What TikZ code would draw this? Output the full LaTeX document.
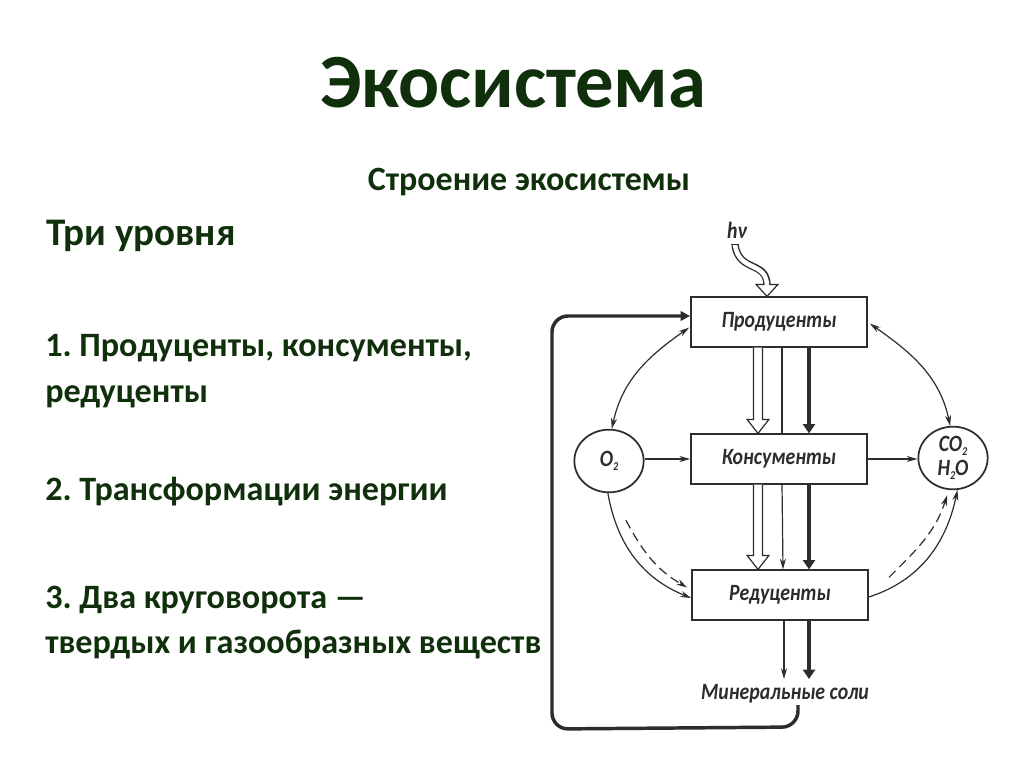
\documentclass[tikz,border=0pt]{standalone}
\usepackage{fontspec}
\setmainfont{Carlito}
\newfontfamily\diafont[FakeStretch=0.85]{Carlito}
\usetikzlibrary{arrows.meta,calc,shapes.geometric}
\definecolor{dkgreen}{RGB}{16,48,12}
\definecolor{ink}{RGB}{45,45,45}
\newcommand\lowtwo{\raisebox{-0.18em}{\fontsize{9}{9}\selectfont 2}}
\frenchspacing
\begin{document}
\begin{tikzpicture}[x=0.75pt,y=0.75pt,
  ttl/.style={anchor=base, text=dkgreen, font=\bfseries\fontsize{57.5}{60}\selectfont},
  sub/.style={anchor=base, text=dkgreen, font=\bfseries\fontsize{25.5}{27}\selectfont},
  lft/.style={anchor=base west, text=dkgreen, font=\bfseries\fontsize{25.6}{28}\selectfont, inner sep=0},
  dfont/.style={font=\diafont\bfseries\itshape\fontsize{17.5}{18}\selectfont, text=ink},
  box/.style={dfont, draw=ink, line width=1.4pt, minimum width=132pt, minimum height=37pt, inner sep=0},
  gas/.style={dfont, ellipse, draw=ink, line width=1.3pt, minimum width=52pt, minimum height=47pt, inner sep=0, align=center},
  thinline/.style={draw=ink, line width=0.9pt},
  thinarr/.style={thinline, -{Stealth[length=8pt,width=4.5pt,inset=2.5pt]}},
  dbl/.style={thinline, {Stealth[length=8pt,width=4.5pt,inset=2.5pt]}-{Stealth[length=8pt,width=4.5pt,inset=2.5pt]}},
  dashedarr/.style={thinarr, dash pattern=on 7pt off 4pt},
  thickarr/.style={draw=ink, line width=3pt, -{Triangle[length=7pt,width=9pt]}},
  fb/.style={draw=ink, line width=2.6pt, rounded corners=12pt, -{Triangle[length=7pt,width=7pt]}},
  hollow/.style={draw=ink, fill=white, line width=0.9pt, line join=miter, to path={
    let \p1=(\tikztostart), \p2=(\tikztotarget) in
    (\x1-3.4pt,\y1) -- (\x1-3.4pt,\y2+10.5pt) -- (\x1-8.2pt,\y2+10.5pt) -- (\x1,\y2)
    -- (\x1+8.2pt,\y2+10.5pt) -- (\x1+3.4pt,\y2+10.5pt) -- (\x1+3.4pt,\y1)}}
]
\useasboundingbox (0,0) rectangle (1024,-767);
\fill[white] (0,0) rectangle (1024,-767);

% texts
\node[ttl] (title) at (513,-108) {Экосистема};
\node[sub] (subtitle) at (529,-190) {Строение экосистемы};
\node[lft, font=\bfseries\fontsize{29.3}{30}\selectfont] (t0) at (46,-245) {Три уровня};
\node[lft] (t1) at (45,-356) {1. Продуценты, консументы,};
\node[lft] (t2) at (45,-402) {редуценты};
\node[lft] (t3) at (45,-500) {2. Трансформации энергии};
\node[lft] (t4) at (45,-608) {3. Два круговорота —};
\node[lft] (t5) at (45,-653) {твердых и газообразных веществ};

% diagram nodes
\node[box] (P) at (779,-322) {Продуценты};
\node[box] (K) at (779,-459) {Консументы};
\node[box] (R) at (780,-595) {Редуценты};
\node[gas] (O) at (609,-461) {O\lowtwo};
\node[gas] (C) at (953,-458) {CO\lowtwo\\[0pt]H\lowtwo O};
\node[dfont] (hv) at (737,-230) {hν};
\node[dfont, inner sep=1pt] (M) at (785,-694) {Минеральные соли};

% sunlight curved hollow arrow
\coordinate (hv0) at ($(hv.south)+(-2,-2)$);
\coordinate (hv1) at ($(P.north)+(-12,-0)$);
\coordinate (hvb) at ($(hv1)+(0,12)$);
\draw[ink, line width=5.5pt] (hv0) .. controls ($(hv0)+(4,-28)$) and ($(hvb)+(0,24)$) .. ($(hvb)+(0,-1)$);
\draw[draw=ink, fill=white, line width=0.9pt] ($(hvb)+(-11,0)$) -- (hv1) -- ($(hvb)+(11,0)$) -- cycle;
\draw[white, line width=3.4pt] (hv0) .. controls ($(hv0)+(4,-28)$) and ($(hvb)+(0,24)$) .. ($(hvb)+(0,-2)$);
\draw[ink, line width=0.9pt] ($(hv0)+(-3.7,0)$) -- ($(hv0)+(3.7,0)$);

% vertical flows P -> K
\draw[hollow] ($(P.south)+(-21,0)$) to ($(K.north)+(-21,0)$);
\draw[thinline] ($(P.south)+(3,0)$) -- ($(K.north)+(3,0)$);
\draw[thickarr] ($(P.south)+(30,0)$) -- ($(K.north)+(30,0)$);
% K -> R
\draw[hollow] ($(K.south)+(-21,0)$) to ($(R.north)+(-22,0)$);
\draw[thinarr] ($(K.south)+(3,0)$) -- ($(R.north)+(3,0)$);
\draw[thickarr] ($(K.south)+(30,0)$) -- ($(R.north)+(29,0)$);
% R -> mineral salts
\coordinate (m1) at ($(M.north)+(-1,4)$);
\coordinate (m2) at ($(M.north)+(24,4)$);
\draw[thinarr] ($(R.south)+(4,0)$) -- (m1);
\draw[thickarr] ($(R.south)+(29,0)$) -- (m2);

% feedback loop
\coordinate (f0) at ($(M.south)+(13,0)$);
\coordinate (f1) at ($(f0)+(0,-22)$);
\coordinate (f2) at (552,-729);
\coordinate (f3) at (552,-316);
\draw[fb] (f0) -- (f1) -- (f2) -- (f3) -- (P.west |- f3);

% gas exchange
\draw[thinarr] (O.east |- K.west) -- (K.west);
\draw[thinarr] (K.east) -- (C.west |- K.east);
\draw[dbl] (O.85) to[out=78, in=215] ($(P.south west)+(-1,20)$);
\draw[dbl] (C.95) to[out=102, in=-35] ($(P.south east)+(2,24)$);

\draw[thinarr] (O.-92) to[out=-80, in=158] ($(R.west)+(0,-3)$);
\draw[dashedarr] ($(O.-92)+(18,-27)$) to[out=-62, in=150] ($(R.north west)+(-4,-18)$);
\draw[thinarr] ($(R.east)+(0,-2)$) to[out=18, in=-102] (C.-82);
\draw[dashedarr] ($(R.north east)+(20,-8)$) to[out=45, in=-108] ($(C.-95)+(-3,-5)$);
\end{tikzpicture}
\end{document}
